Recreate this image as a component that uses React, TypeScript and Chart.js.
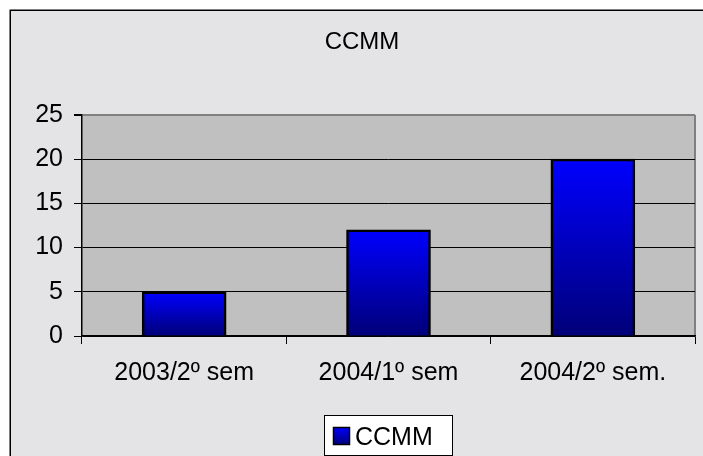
import React, { useEffect, useRef } from "react";
import { Chart, registerables } from "chart.js";

Chart.register(...registerables);

const titleText = "CCMM";
const seriesName = "CCMM";
const categories = ["2003/2º sem", "2004/1º sem", "2004/2º sem."];
const values = [5, 12, 20];
const yMin = 0;
const yMax = 25;
const yStep = 5;

const FONT = '"Liberation Sans", Arial, sans-serif';

function barGradient(ctx: CanvasRenderingContext2D, top: number, bottom: number) {
  const g = ctx.createLinearGradient(0, top, 0, bottom);
  g.addColorStop(0, "#0000ff");
  g.addColorStop(1, "#000078");
  return g;
}

const decorPlugin = {
  id: "decor",
  beforeDraw(chart: any) {
    const { ctx, width, height, chartArea } = chart;
    ctx.save();
    ctx.fillStyle = "#ffffff";
    ctx.fillRect(0, 0, width, height);
    ctx.fillStyle = "#e4e4e6";
    ctx.fillRect(10, 10, width - 10, height - 10);
    ctx.strokeStyle = "#000000";
    ctx.lineWidth = 1.5;
    ctx.beginPath();
    ctx.moveTo(10.25, height);
    ctx.lineTo(10.25, 10.25);
    ctx.lineTo(width, 10.25);
    ctx.stroke();
    ctx.fillStyle = "#c0c0c0";
    ctx.fillRect(chartArea.left, chartArea.top, chartArea.right - chartArea.left, chartArea.bottom - chartArea.top);
    ctx.strokeStyle = "#808080";
    ctx.lineWidth = 2;
    ctx.beginPath();
    ctx.moveTo(chartArea.right, chartArea.bottom);
    ctx.lineTo(chartArea.right, chartArea.top);
    ctx.stroke();
    ctx.restore();
  },
  afterDraw(chart: any) {
    const { ctx } = chart;
    ctx.save();
    ctx.fillStyle = "#000000";
    ctx.font = `24px ${FONT}`;
    ctx.textAlign = "center";
    ctx.textBaseline = "alphabetic";
    ctx.fillText(titleText, 362, 49);

    // legend box
    ctx.fillStyle = "#ffffff";
    ctx.fillRect(324, 415, 129, 41);
    ctx.strokeStyle = "#000000";
    ctx.lineWidth = 1;
    ctx.strokeRect(324.5, 415.5, 128, 40);
    ctx.fillStyle = barGradient(ctx, 427, 445);
    ctx.fillRect(333, 427, 17, 18);
    ctx.lineWidth = 1.5;
    ctx.strokeRect(333.5, 427.5, 16, 17);
    ctx.fillStyle = "#000000";
    ctx.font = `25px ${FONT}`;
    ctx.textAlign = "left";
    ctx.fillText(seriesName, 355, 445);
    ctx.restore();
  },
};

export default function App() {
  const ref = useRef<HTMLCanvasElement | null>(null);
  useEffect(() => {
    if (!ref.current) return;
    const chart = new Chart(ref.current, {
      type: "bar",
      data: {
        labels: categories,
        datasets: [
          {
            label: seriesName,
            data: values,
            backgroundColor: (c: any) => {
              const ch = c.chart;
              const y = ch.scales?.y;
              if (!y || c.dataIndex === undefined || !ch.chartArea) return "#0000cc";
              const top = y.getPixelForValue(values[c.dataIndex]);
              const bottom = y.getPixelForValue(0);
              return barGradient(ch.ctx, top, bottom);
            },
            borderColor: "#000000",
            borderWidth: 2.5,
            barThickness: 84,
          },
        ],
      },
      options: {
        responsive: false,
        animation: false,
        devicePixelRatio: 1,
        layout: { padding: { left: 0, top: 115, right: 8, bottom: 0 } },
        plugins: {
          legend: { display: false },
          title: { display: false },
          tooltip: { enabled: false },
        },
        scales: {
          x: {
            offset: true,
            afterFit: (s: any) => {
              s.height = 120;
            },
            grid: {
              offset: true,
              drawOnChartArea: false,
              drawTicks: true,
              tickLength: 8,
              color: "#000000",
            },
            border: { color: "#000000", width: 1.5 },
            ticks: {
              color: "#000000",
              font: { family: FONT, size: 25 },
              padding: 14,
              maxRotation: 0,
            },
          },
          y: {
            min: yMin,
            max: yMax,
            afterFit: (s: any) => {
              s.width = 82;
            },
            grid: {
              color: (c: any) => (c.tick && c.tick.value === yMax ? "#808080" : "#000000"),
              lineWidth: (c: any) => (c.tick && c.tick.value === yMax ? 2 : 1),
              tickLength: 8,
              tickColor: "#000000",
            },
            border: { color: "#000000", width: 1.5 },
            ticks: {
              stepSize: yStep,
              color: "#000000",
              font: { family: FONT, size: 25 },
              padding: 11,
            },
          },
        },
      },
      plugins: [decorPlugin],
    } as any);
    return () => chart.destroy();
  }, []);
  return (
    <div style={{ position: "fixed", left: 0, top: 0, width: 703, height: 456 }}>
      <canvas ref={ref} width={703} height={456} style={{ display: "block" }} />
    </div>
  );
}
